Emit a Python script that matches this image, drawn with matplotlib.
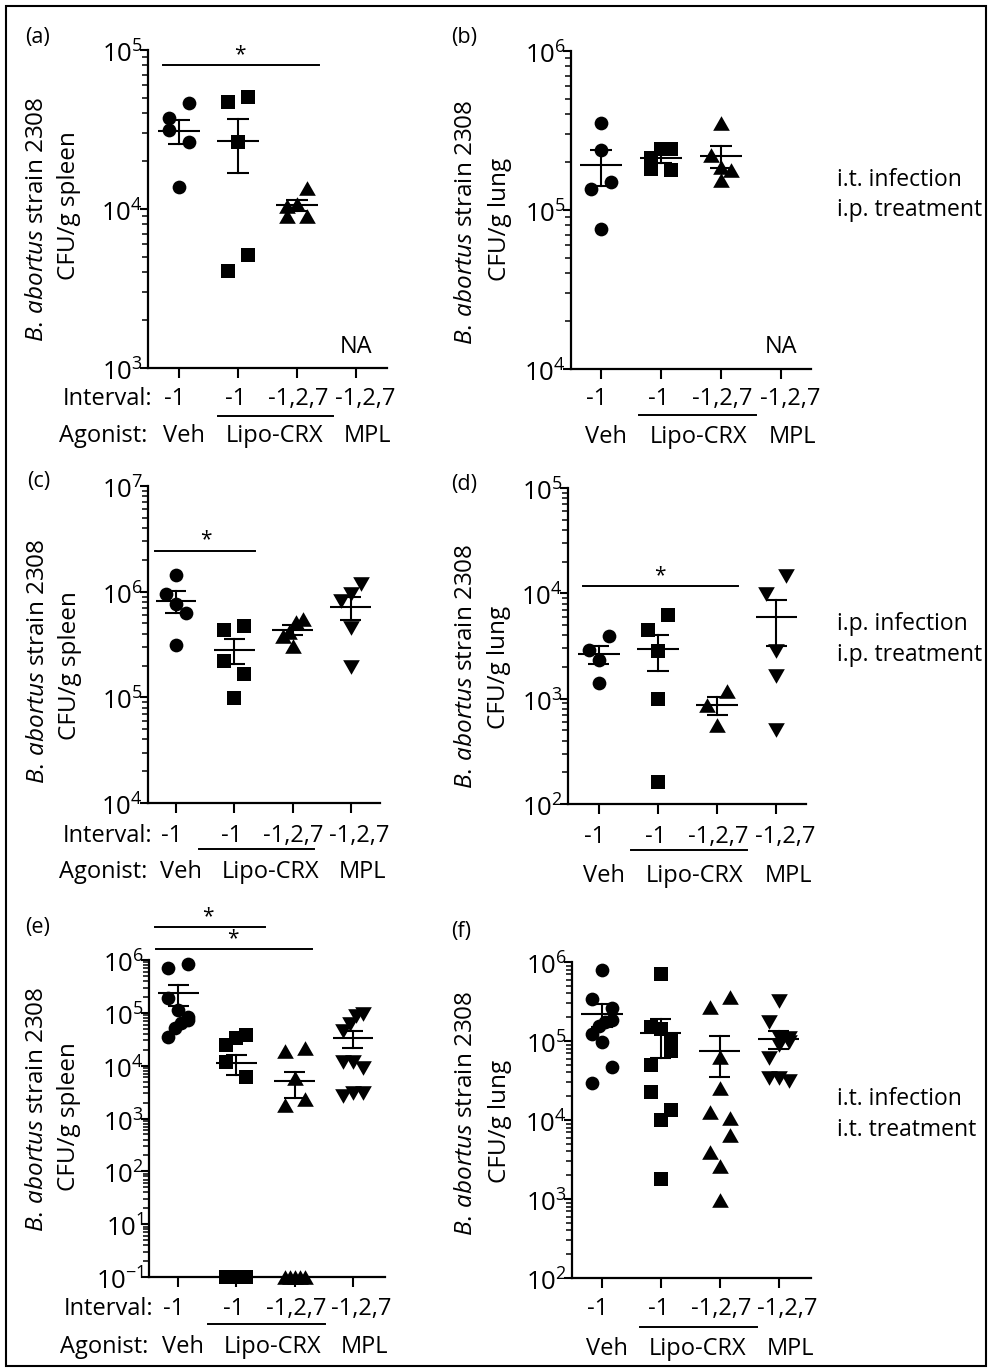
import numpy as np
import matplotlib
matplotlib.use("Agg")
import matplotlib.pyplot as plt
from matplotlib.ticker import LogLocator, NullFormatter
from matplotlib.transforms import ScaledTranslation, blended_transform_factory
from matplotlib.lines import Line2D
from matplotlib.patches import Rectangle

plt.rcParams['font.family'] = ['Open Sans', 'DejaVu Sans']
plt.rcParams['mathtext.fontset'] = 'custom'
plt.rcParams['mathtext.rm'] = 'Open Sans'
plt.rcParams['mathtext.it'] = 'Open Sans:italic'
plt.rcParams['mathtext.bf'] = 'Open Sans:bold'

# ---------------- data (CFU/g) ----------------
intervals = ["-1", "-1", "-1,2,7", "-1,2,7"]
agonists = ["Veh", "Lipo-CRX", "MPL"]

a_veh = [46200, 37200, 31400, 26500, 13800]
a_lipo1 = [50900, 47300, 26500, 5140, 4090]
a_lipo127 = [13500, 10700, 10500, 9000, 9000]
a_mpl = []

b_veh = [355000, 238000, 150000, 135000, 75700]
b_lipo1 = [243000, 243000, 211000, 182000, 178000]
b_lipo127 = [353000, 221000, 187000, 178000, 154000]
b_mpl = []

c_veh = [1450000, 944000, 760000, 635000, 314000]
c_lipo1 = [477000, 437000, 219000, 168000, 99300]
c_lipo127 = [551000, 520000, 413000, 384000, 305000]
c_mpl = [1170000, 944000, 818000, 450000, 194000]

d_veh = [3910, 2920, 2310, 1410]
d_lipo1 = [6180, 4520, 2810, 1000, 161]
d_lipo127 = [1170, 878, 567]
d_mpl = [14700, 9930, 2810, 1630, 508]

# 0.1 = below detection (drawn on the axis floor labelled 10^-1)
e_veh = [840000, 695000, 188000, 113000, 84000, 73000, 63000, 51000, 35000]
e_lipo1 = [37900, 32800, 24500, 11800, 6150, 0.1, 0.1, 0.1, 0.1, 0.1]
e_lipo127 = [21200, 19100, 5720, 2390, 1790, 0.1, 0.1, 0.1, 0.1, 0.1]
e_mpl = [95000, 88000, 62000, 45000, 11800, 11800, 8900, 3000, 2650, 3000]

f_veh = [800000, 344000, 258000, 183000, 175000, 154000, 124000, 97600, 47200, 29600]
f_lipo1 = [698000, 150000, 140000, 100000, 75000, 49500, 22800, 13400, 10000, 1800]
f_lipo127 = [361000, 270000, 63000, 25100, 12700, 10500, 6470, 3980, 2580, 975]
f_mpl = [320000, 175000, 112000, 110000, 97600, 88500, 60100, 33600, 31400, 33600]

W, H = 989, 1371
fig = plt.figure(figsize=(W / 100, H / 100), dpi=100)

TRI_UP = [(0, 0.875), (-1, -0.875), (1, -0.875)]
TRI_DN = [(0, -0.875), (-1, 0.875), (1, 0.875)]
MARKERS = [('o', 9.9), ('s', 9.9), (TRI_UP, 12.0), (TRI_DN, 12.0)]
LW = 1.5
FS = 17


def fx(x):
    return x / W


def fy(y):
    return 1 - y / H


def swarm(vals, h_px, w_px, ylim, xlim, diam=13.5, width=20.0):
    v = np.asarray(vals, float)
    ypx = np.log10(np.maximum(v, ylim[0])) * h_px / np.log10(ylim[1] / ylim[0])
    order = np.argsort(-v, kind='stable')
    rows = []
    for i in order:
        if rows and rows[-1][0][1] - ypx[i] < 1.4 * diam:
            rows[-1].append((i, ypx[i]))
        else:
            rows.append([(i, ypx[i])])
    unit = w_px / (xlim[1] - xlim[0])
    off = np.zeros(len(v))
    for r, row in enumerate(rows):
        n = len(row)
        if n > 1:
            pos = np.linspace(width / 2, -width / 2, n)
            if r % 2:
                pos = pos[::-1]
            for (i, _), p in zip(row, pos):
                off[i] = p / unit
    return off


panels = [
    dict(letter="(a)", lpos=(25, 37), data=[a_veh, a_lipo1, a_lipo127, a_mpl],
         ylim=(1e3, 1e5), rect=(148, 50, 387, 368), xlim=(-0.525, 3.525),
         organ="spleen", prefix=True, na=True, ylab_x=(37, 69), ylab_y=(219, 206),
         rows=(405, 442, 416), ul=(0.66, 2.61),
         sig=[((163, 319), 65, (240, 55))], side=None),
    dict(letter="(b)", lpos=(451, 37), data=[b_veh, b_lipo1, b_lipo127, b_mpl],
         ylim=(1e4, 1e6), rect=(571, 51, 811, 369), xlim=(-0.5, 3.5),
         organ="lung", prefix=False, na=True, ylab_x=(466, 500), ylab_y=(222, 219),
         rows=(405, 443, 415), ul=(0.63, 2.58),
         sig=[], side=(["i.t. infection", "i.p. treatment"], (186, 216))),
    dict(letter="(c)", lpos=(27, 482), data=[c_veh, c_lipo1, c_lipo127, c_mpl],
         ylim=(1e4, 1e7), rect=(148, 486, 380, 803), xlim=(-0.48, 3.5),
         organ="spleen", prefix=True, na=False, ylab_x=(38, 70), ylab_y=(661, 666),
         rows=(842, 878, 849), ul=(0.39, 2.37),
         sig=[((155, 255), 551, (206, 540))], side=None),
    dict(letter="(d)", lpos=(451, 484), data=[d_veh, d_lipo1, d_lipo127, d_mpl],
         ylim=(1e2, 1e5), rect=(568, 488, 806, 804), xlim=(-0.52, 3.5),
         organ="lung", prefix=False, na=False, ylab_x=(466, 499), ylab_y=(666, 667),
         rows=(843, 882, 850), ul=(0.54, 2.51),
         sig=[((583, 738), 586, (660, 576))],
         side=(["i.p. infection", "i.p. treatment"], (630, 661))),
    dict(letter="(e)", lpos=(25, 927), data=[e_veh, e_lipo1, e_lipo127, e_mpl],
         ylim=(1e0, 1e6), rect=(149, 960, 385, 1277), xlim=(-0.5, 3.55),
         organ="spleen", prefix=True, na=False, ylab_x=(37, 69), ylab_y=(1109, 1117),
         rows=(1315, 1353, 1324), ul=(0.52, 2.52),
         sig=[((155, 265), 927, (208, 917)), ((156, 312), 949, (233, 939))],
         side=None, floor_label=-1),
    dict(letter="(f)", lpos=(451, 931), data=[f_veh, f_lipo1, f_lipo127, f_mpl],
         ylim=(1e2, 1e6), rect=(572, 962, 811, 1278), xlim=(-0.51, 3.55),
         organ="lung", prefix=False, na=False, ylab_x=(466, 500), ylab_y=(1113, 1121),
         rows=(1315, 1355, 1327), ul=(0.65, 2.64),
         sig=[], side=(["i.t. infection", "i.t. treatment"], (1105, 1136))),
]

row1_off = [-0.07, -0.04, 0.02, 0.15]
row2_pos = [0.09, 1.62, 3.2]

for p in panels:
    l, t, r, b = p['rect']
    ax = fig.add_axes([fx(l), fy(b), (r - l) / W, (b - t) / H])
    ax.set_yscale('log')
    ax.set_ylim(*p['ylim'])
    ax.set_xlim(*p['xlim'])
    for s in ('top', 'right'):
        ax.spines[s].set_visible(False)
    for s in ('left', 'bottom'):
        ax.spines[s].set_linewidth(1.6)
    ax.yaxis.set_major_locator(LogLocator(base=10, numticks=20))
    ax.yaxis.set_minor_locator(LogLocator(base=10, subs=np.arange(2, 10), numticks=20))
    ax.yaxis.set_major_formatter(NullFormatter())
    ax.yaxis.set_minor_formatter(NullFormatter())
    ax.tick_params(axis='y', which='major', length=6, width=1.5, direction='out')
    ax.tick_params(axis='y', which='minor', length=4, width=1.1, direction='out')
    ax.set_xticks([0, 1, 2, 3])
    ax.set_xticklabels([])
    ax.tick_params(axis='x', which='major', length=7, width=1.5, direction='out')
    ax.tick_params(axis='x', which='minor', length=0)
    ax.patch.set_alpha(0)

    # y tick labels
    lo, hi = int(round(np.log10(p['ylim'][0]))), int(round(np.log10(p['ylim'][1])))
    tr = ax.get_yaxis_transform() + ScaledTranslation(-5 / 100, -5 / 100, fig.dpi_scale_trans)
    for k in range(lo, hi + 1):
        e = k
        if k == lo and 'floor_label' in p:
            e = p['floor_label']
        ax.text(0, 10.0 ** k, r"$10^{%d}$" % e, transform=tr, ha='right', va='center',
                fontsize=18.5)

    h_px, w_px = b - t, r - l
    for gi, vals in enumerate(p['data']):
        if len(vals) == 0:
            continue
        v = np.asarray(vals, float)
        off = swarm(v, h_px, w_px, p['ylim'], p['xlim'])
        mk, ms = MARKERS[gi]
        ax.plot(gi + off, np.maximum(v, p['ylim'][0]), linestyle='none', marker=mk,
                ms=ms, color='black', mew=0, clip_on=False, zorder=3)
        m = v.mean()
        se = v.std(ddof=1) / np.sqrt(len(v))
        ax.plot([gi - 0.35, gi + 0.35], [m, m], color='black', lw=LW, zorder=4,
                solid_capstyle='butt')
        ax.plot([gi, gi], [m - se, m + se], color='black', lw=LW, zorder=4)
        for yy in (m - se, m + se):
            ax.plot([gi - 0.18, gi + 0.18], [yy, yy], color='black', lw=LW, zorder=4,
                    solid_capstyle='butt')

    btr = blended_transform_factory(ax.transData, fig.transFigure)
    y1, y2, yul = p['rows']
    if p['na']:
        ax.text(3, fy(y1 - 52), "NA", transform=btr, fontsize=FS, ha='center',
                va='baseline')

    # x label rows
    for gi, lab in enumerate(intervals):
        ax.text(gi + row1_off[gi], fy(y1), lab, transform=btr, ha='center',
                va='baseline', fontsize=FS, clip_on=False)
    for xg, lab in zip(row2_pos, agonists):
        ax.text(xg, fy(y2), lab, transform=btr, ha='center', va='baseline',
                fontsize=FS, clip_on=False)
    ax.add_line(Line2D(list(p['ul']), [fy(yul), fy(yul)], transform=btr, color='black',
                       lw=1.4, clip_on=False))
    if p['prefix']:
        fig.text(fx(l + 4), fy(y1), "Interval:", ha='right', va='baseline', fontsize=FS)
        fig.text(fx(l - 1), fy(y2), "Agonist:", ha='right', va='baseline', fontsize=FS)

    # y axis label (two lines)
    fig.text(fx(p['ylab_x'][0]), fy(p['ylab_y'][0]), r"$\mathit{B.\,abortus}$ strain 2308",
             rotation=90, ha='center', va='center', fontsize=FS + 0.5)
    fig.text(fx(p['ylab_x'][1]), fy(p['ylab_y'][1]), "CFU/g " + p['organ'],
             rotation=90, ha='center', va='center', fontsize=FS + 0.5)

    # panel letter
    fig.text(fx(p['lpos'][0]), fy(p['lpos'][1]), p['letter'], ha='left', va='center',
             fontsize=15.5)

    # significance bars
    for (x0, x1), yb, (xa, ya) in p['sig']:
        fig.add_artist(Line2D([fx(x0), fx(x1)], [fy(yb), fy(yb)], color='black', lw=1.4))
        fig.text(fx(xa), fy(ya), "*", ha='center', va='center', fontsize=15)

    # side annotation
    if p['side'] is not None:
        lines, ys = p['side']
        for txt, yy in zip(lines, ys):
            fig.text(fx(837), fy(yy), txt, ha='left', va='baseline', fontsize=16.5)

# outer frame
fig.add_artist(Rectangle((fx(6), fy(1366)), (986 - 6) / W, (1366 - 6) / H,
                         transform=fig.transFigure, fill=False, lw=1.5, ec='black'))

fig.savefig("out.png", dpi=100)
